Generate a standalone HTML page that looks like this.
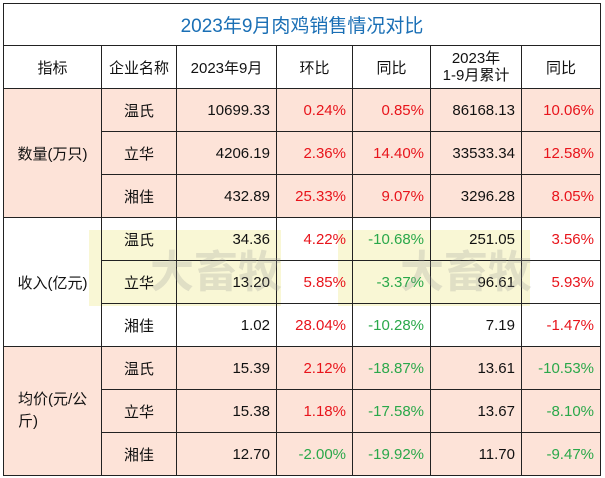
<!DOCTYPE html>
<html><head><meta charset="utf-8"><style>
body{margin:0;width:605px;height:478px;background:#fff;font-family:"Liberation Sans","Noto Sans CJK SC",sans-serif;position:relative;overflow:hidden}
table{position:absolute;left:3px;top:3px;border-collapse:collapse;table-layout:fixed}
td{border:1.5px solid #222;font-size:15px;color:#111;padding:0 6px;white-space:nowrap}
.t{height:41px;text-align:center;color:#1a6fb5;font-size:19px}
.h td{height:42px;text-align:center}
.r td{height:42px}
.n{text-align:right}.c{text-align:center}
.red{color:#e8141b;text-align:right}.grn{color:#2aa84a;text-align:right}
.p td{background:#fde3d8}
.wm{position:absolute;background:rgba(240,235,150,.4);width:192px;height:76px}
.wt{position:absolute;font-size:44px;font-weight:bold;color:rgba(150,150,150,.25);font-family:"Noto Sans CJK SC",sans-serif}
</style></head><body>
<div class="wm" style="left:89px;top:230px"></div>
<div class="wm" style="left:338px;top:230px"></div>
<table>
<colgroup><col style="width:98px"><col style="width:75px"><col style="width:100px"><col style="width:76px"><col style="width:78px"><col style="width:91px"><col style="width:79px"></colgroup>
<tr><td colspan="7" class="t">2023年9月肉鸡销售情况对比</td></tr>
<tr class="h"><td>指标</td><td>企业名称</td><td>2023年9月</td><td>环比</td><td>同比</td><td style="line-height:17px">2023年<br>1-9月累计</td><td>同比</td></tr>
<tr class="r p"><td rowspan="3" class="c">数量(万只)</td><td class="c">温氏</td><td class="n">10699.33</td><td class="red">0.24%</td><td class="red">0.85%</td><td class="n">86168.13</td><td class="red">10.06%</td></tr>
<tr class="r p"><td class="c">立华</td><td class="n">4206.19</td><td class="red">2.36%</td><td class="red">14.40%</td><td class="n">33533.34</td><td class="red">12.58%</td></tr>
<tr class="r p"><td class="c">湘佳</td><td class="n">432.89</td><td class="red">25.33%</td><td class="red">9.07%</td><td class="n">3296.28</td><td class="red">8.05%</td></tr>
<tr class="r"><td rowspan="3" class="c">收入(亿元)</td><td class="c" style="background:transparent">温氏</td><td class="n" style="background:transparent">34.36</td><td class="red">4.22%</td><td class="grn" style="background:transparent">-10.68%</td><td class="n" style="background:transparent">251.05</td><td class="red">3.56%</td></tr>
<tr class="r"><td class="c">立华</td><td class="n">13.20</td><td class="red">5.85%</td><td class="grn">-3.37%</td><td class="n">96.61</td><td class="red">5.93%</td></tr>
<tr class="r"><td class="c">湘佳</td><td class="n">1.02</td><td class="red">28.04%</td><td class="grn">-10.28%</td><td class="n">7.19</td><td class="red">-1.47%</td></tr>
<tr class="r p"><td rowspan="3" style="line-height:22px;text-align:left;padding-left:14px">均价(元/公<br>斤)</td><td class="c">温氏</td><td class="n">15.39</td><td class="red">2.12%</td><td class="grn">-18.87%</td><td class="n">13.61</td><td class="grn">-10.53%</td></tr>
<tr class="r p"><td class="c">立华</td><td class="n">15.38</td><td class="red">1.18%</td><td class="grn">-17.58%</td><td class="n">13.67</td><td class="grn">-8.10%</td></tr>
<tr class="r p"><td class="c">湘佳</td><td class="n">12.70</td><td class="grn">-2.00%</td><td class="grn">-19.92%</td><td class="n">11.70</td><td class="grn">-9.47%</td></tr>
</table>
<div class="wt" style="left:150px;top:236px">大畜牧</div>
<div class="wt" style="left:400px;top:236px">大畜牧</div>
</body></html>
